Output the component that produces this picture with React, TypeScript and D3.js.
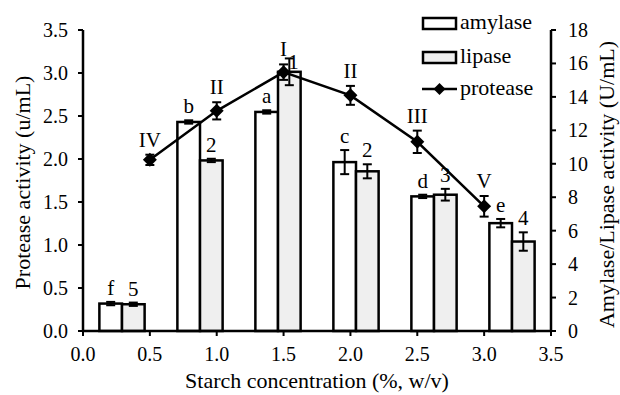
import React from 'react';
import * as d3 from 'd3';

// starch concentration (%, w/v) for each culture
const concentrations = [0.5, 1.0, 1.5, 2.0, 2.5, 3.0];

// protease activity (u/mL), left axis
const protease = [1.99, 2.56, 3.01, 2.74, 2.2, 1.45];
const proteaseErr = [0.06, 0.1, 0.09, 0.11, 0.13, 0.12];
const proteaseLabels = ['IV', 'II', 'I', 'II', 'III', 'V'];

// amylase / lipase activity (U/mL), right axis
const amylase = [1.64, 12.5, 13.1, 10.1, 8.05, 6.45];
const amylaseErr = [0.1, 0.1, 0.1, 0.72, 0.1, 0.25];
const amylaseLabels = ['f', 'b', 'a', 'c', 'd', 'e'];

const lipase = [1.6, 10.2, 15.5, 9.55, 8.15, 5.35];
const lipaseErr = [0.1, 0.1, 0.8, 0.42, 0.35, 0.55];
const lipaseLabels = ['5', '2', '1', '2', '3', '4'];

const leftTicks = [0, 0.5, 1.0, 1.5, 2.0, 2.5, 3.0, 3.5];
const rightTicks = [0, 2, 4, 6, 8, 10, 12, 14, 16, 18];
const xTicks = [0, 0.5, 1.0, 1.5, 2.0, 2.5, 3.0, 3.5];

const W = 620;
const H = 395;
const margin = { top: 30, right: 69, bottom: 64, left: 83 };
const font = 'Liberation Serif';
const lipaseFill = '#efefef';

const App = () => {
  const x0 = margin.left;
  const x1 = W - margin.right;
  const y0 = H - margin.bottom;
  const y1 = margin.top;

  const x = d3.scaleLinear().domain([0, 3.5]).range([x0, x1]);
  const yL = d3.scaleLinear().domain([0, 3.5]).range([y0, y1]);
  const yR = d3.scaleLinear().domain([0, 18]).range([y0, y1]);

  // bars sit in six equal bands across the plot, not on the concentration values
  const band = d3
    .scaleBand<number>()
    .domain(d3.range(concentrations.length))
    .range([x0, x1])
    .paddingInner(0.42)
    .paddingOuter(0.21);
  const sub = d3.scaleBand<string>().domain(['amylase', 'lipase']).range([0, band.bandwidth()]);

  const line = d3
    .line<number>()
    .x((_, i) => x(concentrations[i]))
    .y((d) => yL(d));

  const diamond = (cx: number, cy: number, r: number) =>
    `M${cx},${cy - r}L${cx + r},${cy}L${cx},${cy + r}L${cx - r},${cy}Z`;

  const errBar = (cx: number, top: number, bottom: number, key: string) => (
    <g key={key} stroke="#000" strokeWidth={2}>
      <line x1={cx} x2={cx} y1={top} y2={bottom} />
      <line x1={cx - 4.5} x2={cx + 4.5} y1={top} y2={top} />
      <line x1={cx - 4.5} x2={cx + 4.5} y1={bottom} y2={bottom} />
    </g>
  );

  // protease label anchor points, used to nudge bar labels that would collide
  const pLabel = protease.map((p, i) => ({
    x: x(concentrations[i]),
    y: yL(p + proteaseErr[i]) - 8,
  }));

  const series = [
    { key: 'amylase', values: amylase, err: amylaseErr, labels: amylaseLabels, fill: '#fff' },
    { key: 'lipase', values: lipase, err: lipaseErr, labels: lipaseLabels, fill: lipaseFill },
  ];

  return (
    <svg
      width={W}
      height={H}
      style={{ position: 'absolute', left: 0, top: 0, background: '#fff', fontFamily: font }}
    >
      {/* bars */}
      {series.map((s) =>
        s.values.map((v, i) => {
          const bx = (band(i) as number) + (sub(s.key) as number);
          const bw = sub.bandwidth();
          const cx = bx + bw / 2;
          const top = yR(v + s.err[i]);
          let lx = cx;
          let ly = top - 7;
          const pl = pLabel[i];
          if (Math.abs(lx - pl.x) < 12 && Math.abs(ly - pl.y) < 16) {
            lx = pl.x + 10;
            ly = pl.y + 13;
          }
          return (
            <g key={s.key + i}>
              <rect x={bx} y={yR(v)} width={bw} height={y0 - yR(v)} fill={s.fill} stroke="#000" strokeWidth={2.5} />
              {errBar(cx, top, yR(v - s.err[i]), 'e')}
              <text x={lx} y={ly} textAnchor="middle" fontSize={21}>
                {s.labels[i]}
              </text>
            </g>
          );
        })
      )}

      {/* protease line */}
      <path d={line(protease) || ''} fill="none" stroke="#000" strokeWidth={2.5} />
      {protease.map((p, i) => {
        const cx = x(concentrations[i]);
        const top = yL(p + proteaseErr[i]);
        return (
          <g key={'p' + i}>
            {errBar(cx, top, yL(p - proteaseErr[i]), 'e')}
            <path d={diamond(cx, yL(p), 7)} fill="#000" />
            <text x={pLabel[i].x} y={pLabel[i].y} textAnchor="middle" fontSize={21}>
              {proteaseLabels[i]}
            </text>
          </g>
        );
      })}

      {/* left axis */}
      <line x1={x0} x2={x0} y1={y1} y2={y0} stroke="#000" strokeWidth={2.5} />
      {leftTicks.map((t) => (
        <g key={'l' + t}>
          <line x1={x0 - 5} x2={x0} y1={yL(t)} y2={yL(t)} stroke="#000" strokeWidth={2} />
          <text x={x0 - 15} y={yL(t)} dy="0.35em" textAnchor="end" fontSize={20}>
            {d3.format('.1f')(t)}
          </text>
        </g>
      ))}

      {/* right axis */}
      <line x1={x1} x2={x1} y1={y1} y2={y0} stroke="#000" strokeWidth={2.5} />
      {rightTicks.map((t) => (
        <g key={'r' + t}>
          <line x1={x1} x2={x1 + 5} y1={yR(t)} y2={yR(t)} stroke="#000" strokeWidth={2} />
          <text x={x1 + 17} y={yR(t)} dy="0.35em" textAnchor="start" fontSize={20}>
            {t}
          </text>
        </g>
      ))}

      {/* bottom axis */}
      <line x1={x0} x2={x1} y1={y0} y2={y0} stroke="#000" strokeWidth={2.5} />
      {xTicks.map((t) => (
        <g key={'x' + t}>
          <line x1={x(t)} x2={x(t)} y1={y0} y2={y0 + 5} stroke="#000" strokeWidth={2} />
          <text x={x(t)} y={y0 + 30} textAnchor="middle" fontSize={20}>
            {d3.format('.1f')(t)}
          </text>
        </g>
      ))}

      {/* axis titles */}
      <text x={(x0 + x1) / 2} y={388} textAnchor="middle" fontSize={22}>
        Starch concentration (%, w/v)
      </text>
      <text transform={`translate(30,${(y0 + y1) / 2 + 2}) rotate(-90)`} textAnchor="middle" fontSize={22}>
        Protease activity (u/mL)
      </text>
      <text transform={`translate(614,${(y0 + y1) / 2 + 4}) rotate(-90)`} textAnchor="middle" fontSize={22}>
        Amylase/Lipase activity (U/mL)
      </text>

      {/* legend */}
      <g>
        <rect x={423} y={18} width={33} height={11} fill="#fff" stroke="#000" strokeWidth={2.5} />
        <text x={460} y={29} fontSize={22}>amylase</text>
        <rect x={423} y={52} width={33} height={11} fill={lipaseFill} stroke="#000" strokeWidth={2.5} />
        <text x={460} y={63} fontSize={22}>lipase</text>
        <line x1={422} x2={457} y1={89} y2={89} stroke="#000" strokeWidth={2.5} />
        <path d={diamond(439.5, 89, 6)} fill="#000" />
        <text x={460} y={95} fontSize={22}>protease</text>
      </g>
    </svg>
  );
};

export default App;
